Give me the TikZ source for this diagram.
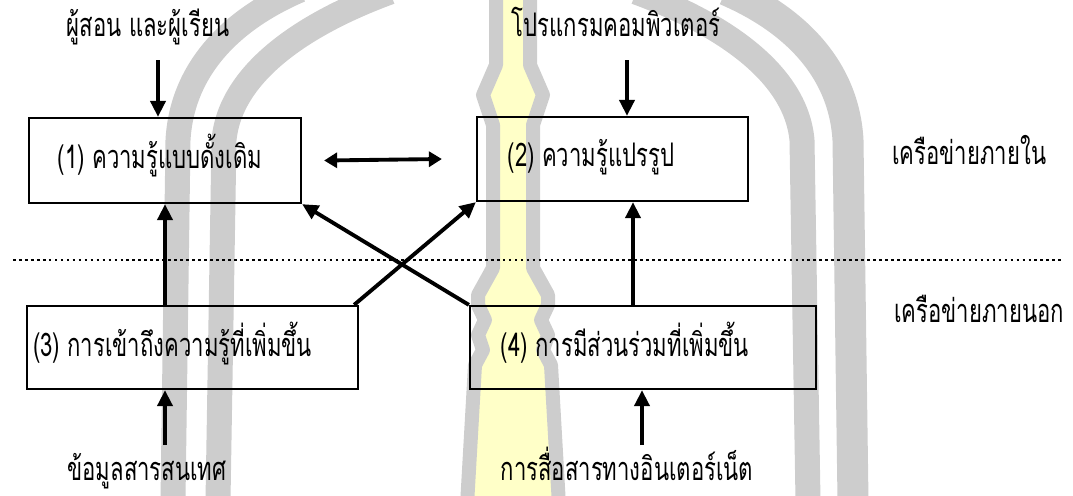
\documentclass[tikz,border=0pt]{standalone}
\usepackage{fontspec}
\newfontfamily\thaifont[Script=Thai, FakeStretch=0.68]{Loma}
\usepackage{xcolor}
\usepackage{tikz}
\usetikzlibrary{arrows.meta, positioning}

\definecolor{archgray}{RGB}{205,205,205}
\definecolor{spireyellow}{RGB}{255,255,200}

\begin{document}
\begin{tikzpicture}[x=0.02cm, y=-0.02cm,
  box/.style={draw, line width=1.3pt, inner sep=0pt, minimum height=1.68cm},
  txt/.style={font=\thaifont\fontsize{18.5}{22}\selectfont, inner sep=0pt},
  arr/.style={line width=2.2pt, -{Triangle[length=0.32cm, width=0.3cm]}},
  dblarr/.style={line width=2.2pt, {Triangle[length=0.26cm, width=0.3cm]}-{Triangle[length=0.26cm, width=0.3cm]}},
  band/.style={archgray, line width=0.5cm}]
\useasboundingbox (0,0) rectangle (1073,495);

% Emblem (behind everything)
\begin{scope}
\clip (0,0) rectangle (1073,495);
\draw[band] (173,500) -- (178,140) .. controls (182,70) and (230,20) .. (300,-10);
\draw[band] (218,500) -- (224,140) .. controls (230,75) and (300,25) .. (390,-8);
\draw[band] (808,500) -- (802,140) .. controls (796,75) and (726,25) .. (636,-8);
\draw[band, line width=0.62cm] (853,500) -- (848,140) .. controls (844,70) and (796,20) .. (726,-10);
% Spire
\filldraw[draw=archgray, fill=spireyellow, line width=0.28cm, line join=round]
  (496,-10) -- (496,65) -- (483,95) -- (493,125) -- (493,268) -- (478,295) -- (478,305)
  -- (485,320) -- (478,335) -- (483,350) -- (475,365) -- (467,505)
  -- (559,505) -- (551,365) -- (543,350) -- (548,335) -- (541,320) -- (548,305)
  -- (548,295) -- (533,268) -- (533,125) -- (543,95) -- (530,65) -- (530,-10) -- cycle;
\end{scope}

% Internal / external divider
\coordinate (sepL) at (13,260);
\coordinate (sepR) at (1062,260);
\draw[line width=1pt, dash pattern=on 1.5pt off 1.9pt] (sepL) -- (sepR);

% Knowledge boxes
\node[box, minimum width=5.44cm, minimum height=1.70cm] (kb1) at (165,160.5) {};
\node[box, minimum width=5.42cm] (kb2) at (612.5,159) {};
\node[box, minimum width=6.62cm, minimum height=1.66cm] (kb3) at (192.5,347.5) {};
\node[box, minimum width=6.92cm, minimum height=1.66cm] (kb4) at (643,347.5) {};

\node[txt, anchor=base] (t1) at (160,168) {(1) ความรู้แบบดั้งเดิม};
\node[txt, anchor=base] (t2) at (591,166) {(2) ความรู้แปรรูป};
\node[txt, anchor=base] (t3) at (172.5,356) {(3) การเข้าถึงความรู้ที่เพิ่มขึ้น};
\node[txt, anchor=base] (t4) at (625,356) {(4) การมีส่วนร่วมที่เพิ่มขึ้น};

% Inputs
\node[txt, anchor=base] (src1) at (148,36) {ผู้สอน และผู้เรียน};
\node[txt, anchor=base] (src2) at (616,36) {โปรแกรมคอมพิวเตอร์};
\node[txt, anchor=base] (src3) at (147,480) {ข้อมูลสารสนเทศ};
\node[txt, anchor=base] (src4) at (627,480) {การสื่อสารทางอินเตอร์เน็ต};

% Network side labels
\node[txt, anchor=base west] (net1) at (892,164) {เครือข่ายภายใน};
\node[txt, anchor=base west] (net2) at (894,322) {เครือข่ายภายนอก};

\coordinate (in1) at (158,60);
\coordinate (in2) at (627,60);
\coordinate (in3) at (165,445);
\coordinate (in4) at (642,445);

\draw[arr] (in1) -- (in1 |- kb1.north);
\draw[arr] (in2) -- (in2 |- kb2.north);
\draw[arr] (in3) -- (in3 |- kb3.south);
\draw[arr] (in4) -- (in4 |- kb4.south);

\draw[dblarr] ([xshift=0.44cm]kb1.east) -- ([xshift=-0.68cm]kb2.west);
\draw[arr] (kb1.south |- kb3.north) -- (kb1.south);
\draw[arr] ([xshift=-0.2cm]kb4.north) -- ([xshift=-0.2cm]kb4.north |- kb2.south);
\draw[arr] ([xshift=-0.1cm]kb3.north east) -- (kb2.south west);
\draw[arr] (kb4.north west) -- (kb1.south east);
\end{tikzpicture}
\end{document}
